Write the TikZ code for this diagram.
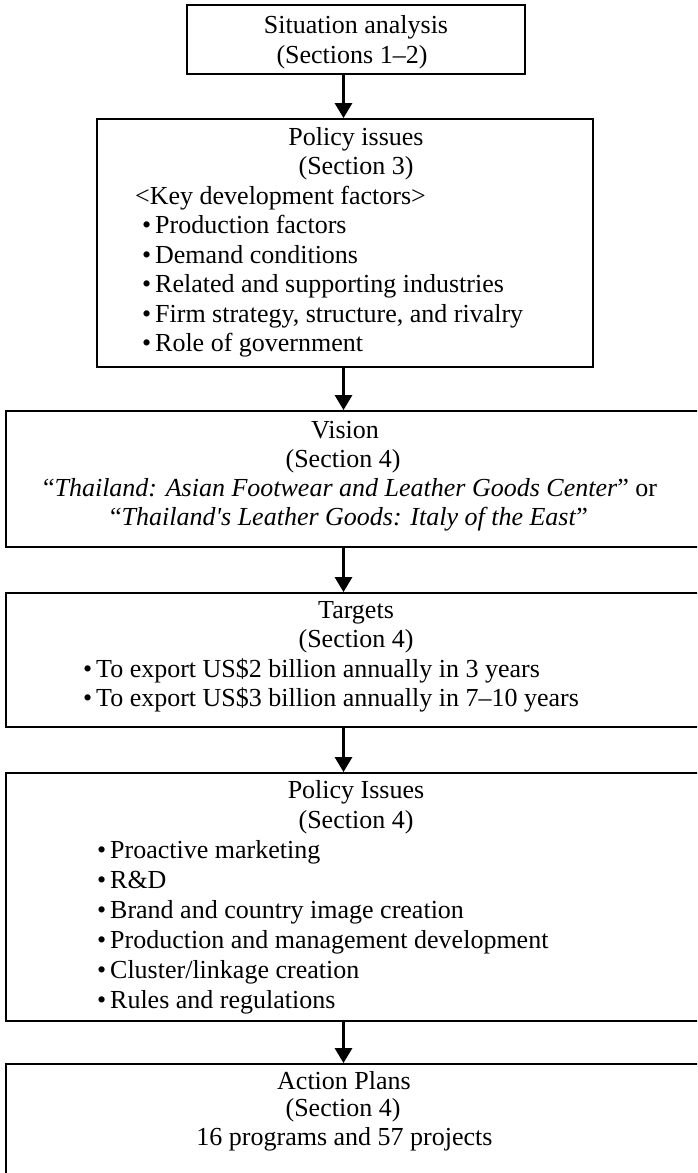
\documentclass[tikz,border=0pt]{standalone}
\usepackage{fontspec}
\setmainfont{Liberation Serif}
\usetikzlibrary{arrows.meta,fit}

% bullet hung to the left of the item text
\newcommand\itembul{\llap{\textbullet\hspace{4pt}}}

\begin{document}
\begin{tikzpicture}[x=1pt,y=-1pt,
  box/.style={draw=black, line width=1.8pt, inner sep=0pt},
  txt/.style={inner sep=0pt, font=\fontsize{26pt}{29pt}\selectfont},
  ctr/.style={txt, anchor=base},
  lft/.style={txt, anchor=base west},
  arr/.style={line width=3pt, -{Triangle[width=17pt,length=15pt]}}]

\clip (0,0) rectangle (697,1173);

% arrow column
\coordinate (ax) at (343.5,0);

% box outlines
\coordinate (c1a) at (187,5);   \coordinate (c1b) at (525,74);
\coordinate (c2a) at (97,119);  \coordinate (c2b) at (593,367);
\coordinate (c3a) at (6,411);   \coordinate (c3b) at (705,547);
\coordinate (c4a) at (6,593);   \coordinate (c4b) at (705,727);
\coordinate (c5a) at (6,773);   \coordinate (c5b) at (705,1021);
\coordinate (c6a) at (6,1064);  \coordinate (c6b) at (705,1185);

\node[box, fit=(c1a)(c1b)] (situation) {};
\node[box, fit=(c2a)(c2b)] (issues3) {};
\node[box, fit=(c3a)(c3b)] (vision) {};
\node[box, fit=(c4a)(c4b)] (targets) {};
\node[box, fit=(c5a)(c5b)] (issues4) {};
\node[box, fit=(c6a)(c6b)] (actions) {};

% situation analysis
\node[ctr] (s1) at (356,33) {Situation analysis};
\node[ctr] (s2) at (352,63) {(Sections 1--2)};

% policy issues, section 3
\node[ctr] (p1) at (356,145) {Policy issues};
\node[ctr] (p2) at (356,174.5) {(Section 3)};
\node[lft] (p3) at (135,204) {<Key development factors>};
\node[lft] (p4) at (155,233.5) {\itembul Production factors};
\node[lft] (p5) at (155,263) {\itembul Demand conditions};
\node[lft] (p6) at (155,292.5) {\itembul Related and supporting industries};
\node[lft] (p7) at (155,322) {\itembul Firm strategy, structure, and rivalry};
\node[lft] (p8) at (155,351.5) {\itembul Role of government};

% vision
\node[ctr] (v1) at (345,438) {Vision};
\node[ctr] (v2) at (343,467) {(Section 4)};
\node[ctr] (v3) at (350,496) {“\textit{Thailand: Asian Footwear and Leather Goods Center}” or};
\node[ctr] (v4) at (349,525) {“\textit{Thailand\textquotesingle s Leather Goods: Italy of the East}”};

% targets
\node[ctr] (g1) at (356,618) {Targets};
\node[ctr] (g2) at (356,647.5) {(Section 4)};
\node[lft] (g3) at (96,677) {\itembul To export US\$2 billion annually in 3 years};
\node[lft] (g4) at (96,706.5) {\itembul To export US\$3 billion annually in 7--10 years};

% policy issues, section 4
\node[ctr] (q1) at (356,798) {Policy Issues};
\node[ctr] (q2) at (356,828) {(Section 4)};
\node[lft] (q3) at (110,858) {\itembul Proactive marketing};
\node[lft] (q4) at (110,888) {\itembul R\&D};
\node[lft] (q5) at (110,918) {\itembul Brand and country image creation};
\node[lft] (q6) at (110,948) {\itembul Production and management development};
\node[lft] (q7) at (110,978) {\itembul Cluster/linkage creation};
\node[lft] (q8) at (110,1008) {\itembul Rules and regulations};

% action plans
\node[ctr] (a1) at (344,1089) {Action Plans};
\node[ctr] (a2) at (343,1116) {(Section 4)};
\node[ctr] (a3) at (344.5,1145) {16 programs and 57 projects};

% connectors
\draw[arr] (situation.south -| ax) -- (issues3.north -| ax);
\draw[arr] (issues3.south -| ax) -- (vision.north -| ax);
\draw[arr] (vision.south -| ax) -- (targets.north -| ax);
\draw[arr] (targets.south -| ax) -- (issues4.north -| ax);
\draw[arr] (issues4.south -| ax) -- (actions.north -| ax);
\end{tikzpicture}
\end{document}
